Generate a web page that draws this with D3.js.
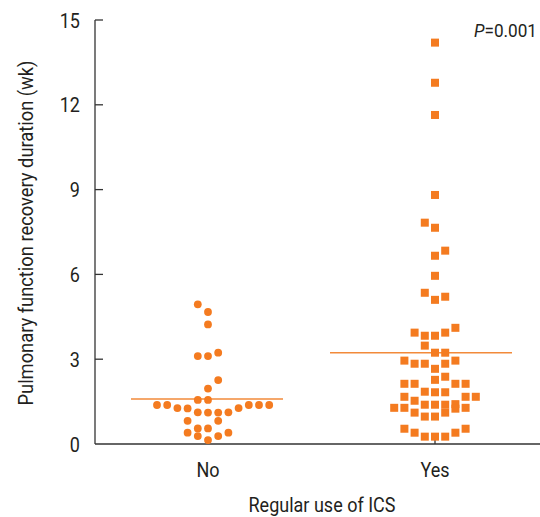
<!DOCTYPE html>
<html>
<head>
<meta charset="utf-8">
<script src="https://cdn.jsdelivr.net/npm/d3@7"></script>
<style>
  body { margin: 0; background: #fff; }
  text { font-family: Roboto, "Liberation Sans", sans-serif; fill: #231f20; }
</style>
</head>
<body>
<script>
var width = 540, height = 517;

var groups = ["No", "Yes"];
var yTicks = [0, 3, 6, 9, 12, 15];

// No group: value (wk) and swarm slot
var noValues = [4.94, 4.67, 4.23, 3.11, 3.11, 3.23, 2.26, 1.96, 1.56, 1.56,
  1.38, 1.38, 1.27, 1.26, 1.12, 1.11, 1.11, 1.12, 1.27, 1.38, 1.38, 1.38,
  0.82, 0.82, 0.40, 0.55, 0.55, 0.40, 0.28, 0.28, 0.14];
var noSlots = [-1, 0, 0, -1, 0, 1, 1, 0, -1, 0,
  -5, -4, -3, -2, -1, 0, 1, 2, 3, 4, 5, 6,
  -2, 1, -2, -1, 0, 2, -1, 1, 0];

// Yes group
var yesValues = [14.2, 12.78, 11.64, 8.81, 7.83, 7.65, 6.84, 6.66, 5.95, 5.35, 5.10, 5.21,
  3.94, 3.83, 3.83, 3.94, 4.11, 3.48, 3.23, 3.23,
  2.95, 2.84, 2.84, 2.84, 2.95, 2.66, 2.38, 2.27,
  2.13, 2.13, 2.13, 2.13, 1.85, 1.83, 1.83, 1.67, 1.67, 1.67, 1.53,
  1.39, 1.39, 1.39, 1.41, 1.28, 1.28, 1.28, 1.25, 1.11, 1.11, 0.97, 0.97,
  0.54, 0.54, 0.40, 0.40, 0.26, 0.26, 0.26];
var yesSlots = [0, 0, 0, 0, -1, 0, 1, 0, 0, -1, 0, 1,
  -2, -1, 0, 1, 2, -1, 0, 1,
  -3, -2, -1, 1, 2, 0, 1, 0,
  -3, -2, 2, 3, -1, 0, 1, -3, 3, 4, -2,
  -1, 0, 1, 2, -4, -3, 3, 2, -2, 1, -1, 0,
  -3, 3, -2, 2, -1, 0, 1];

var means = [1.59, 3.23];
var pText = "=0.001";

var svg = d3.select("body").append("svg")
    .attr("width", width)
    .attr("height", height);

var x = d3.scalePoint().domain(groups).range([208, 435]);
var slot = d3.scaleLinear().domain([0, 1]).range([0, 10.2]);
var y = d3.scaleLinear().domain([0, 15]).range([444, 20]);

var orange = "#f47b20";

// axes
var ax = svg.append("g").attr("stroke", "#333").attr("stroke-width", 1.3).attr("fill", "none");
ax.append("line").attr("x1", 95).attr("x2", 95).attr("y1", y(15)).attr("y2", y(0));
ax.append("line").attr("x1", 95).attr("x2", 540).attr("y1", y(0)).attr("y2", y(0));
ax.selectAll(".yt").data(yTicks.slice(1)).enter().append("line")
    .attr("x1", 95).attr("x2", 103)
    .attr("y1", function(d) { return y(d); })
    .attr("y2", function(d) { return y(d); });
ax.selectAll(".xt").data(groups).enter().append("line")
    .attr("x1", function(d) { return x(d); })
    .attr("x2", function(d) { return x(d); })
    .attr("y1", y(0)).attr("y2", y(0) - 4);

svg.selectAll(".ytl").data(yTicks).enter().append("text")
    .attr("class", "cond")
    .attr("x", 80)
    .attr("y", function(d) { return y(d); })
    .attr("dy", "0.36em")
    .attr("text-anchor", "end")
    .attr("font-size", 21)
    .text(function(d) { return d; });

svg.selectAll(".xtl").data(groups).enter().append("text")
    .attr("class", "cond")
    .attr("x", function(d) { return x(d); })
    .attr("y", 477)
    .attr("text-anchor", "middle")
    .attr("font-size", 21)
    .text(function(d) { return d; });

var xTitle = svg.append("text")
    .attr("x", 322).attr("y", 512)
    .attr("text-anchor", "middle")
    .attr("font-size", 21)
    .text("Regular use of ICS");

var yTitle = svg.append("text")
    .attr("transform", "translate(33,233) rotate(-90)")
    .attr("text-anchor", "middle")
    .attr("font-size", 21)
    .text("Pulmonary function recovery duration (wk)");

var pt = svg.append("text")
    .attr("x", 474).attr("y", 37)
    .attr("font-size", 17.5);
pt.append("tspan").attr("font-style", "italic").text("P");
pt.append("tspan").text(pText);

// condensed look: squeeze glyphs horizontally
var k = 147 / xTitle.node().getComputedTextLength();
xTitle.attr("textLength", 147).attr("lengthAdjust", "spacingAndGlyphs");
yTitle.attr("textLength", 345).attr("lengthAdjust", "spacingAndGlyphs");
pt.attr("textLength", 63).attr("lengthAdjust", "spacingAndGlyphs");
svg.selectAll("text.cond").each(function() {
  var len = this.getComputedTextLength();
  d3.select(this).attr("textLength", len * k).attr("lengthAdjust", "spacingAndGlyphs");
});

// mean lines
var meanExt = [[-77, 75], [-105, 77]];
svg.selectAll(".mean").data(means).enter().append("line")
    .attr("x1", function(d, i) { return x(groups[i]) + meanExt[i][0]; })
    .attr("x2", function(d, i) { return x(groups[i]) + meanExt[i][1]; })
    .attr("y1", function(d) { return y(d); })
    .attr("y2", function(d) { return y(d); })
    .attr("stroke", "#f28a3a")
    .attr("stroke-width", 1.4);

// No: circles
svg.selectAll(".no").data(noValues).enter().append("circle")
    .attr("cx", function(d, i) { return x("No") + slot(noSlots[i]); })
    .attr("cy", function(d) { return y(d); })
    .attr("r", 3.9)
    .attr("fill", orange);

// Yes: squares
svg.selectAll(".yes").data(yesValues).enter().append("rect")
    .attr("x", function(d, i) { return x("Yes") + slot(yesSlots[i]) - 4; })
    .attr("y", function(d) { return y(d) - 4; })
    .attr("width", 8).attr("height", 8)
    .attr("fill", orange);
</script>
</body>
</html>
